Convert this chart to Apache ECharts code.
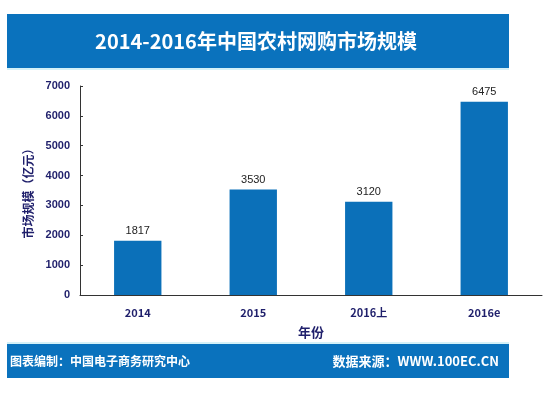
<!DOCTYPE html>
<html><head><meta charset="utf-8">
<script src="https://cdn.jsdelivr.net/npm/echarts@6/dist/echarts.min.js"></script>
<style>html,body{margin:0;padding:0;background:#fff}#c{width:559px;height:393px}</style>
</head><body><div id="c"></div>
<script>
var categories = ['2014', '2015', '2016上', '2016e'];
var values = [1817, 3530, 3120, 6475];
var yTicks = [0, 1000, 2000, 3000, 4000, 5000, 6000, 7000];
var titleText = '2014-2016年中国农村网购市场规模';
var footLeft = '图表编制：中国电子商务研究中心';
var footRight = '数据来源：WWW.100EC.CN';
var yName = '市场规模（亿元）';
var xName = '年份';

var chart = echarts.init(document.getElementById('c'), null, {renderer: 'canvas'});
var navy = '#1f1f6b';
var blue = '#0b70b9';
chart.setOption({
  animation: false,
  backgroundColor: '#fff',
  graphic: [
    {type: 'rect', shape: {x: 7, y: 14, width: 502, height: 54}, style: {fill: '#0a72bd'}, z: 0},
    {type: 'rect', shape: {x: 7, y: 68, width: 502, height: 2}, style: {fill: '#d4f1f8'}, z: 0},
    {type: 'text', x: 256, y: 41, style: {text: titleText, fill: '#fff', font: 'bold 20px "Noto Sans CJK SC", sans-serif', textAlign: 'center', textVerticalAlign: 'middle'}, z: 1},
    {type: 'rect', shape: {x: 7, y: 342, width: 502, height: 2}, style: {fill: '#d4f1f8'}, z: 0},
    {type: 'rect', shape: {x: 7, y: 344, width: 502, height: 34}, style: {fill: '#0a72bd'}, z: 0},
    {type: 'text', x: 10, y: 361, style: {text: footLeft, fill: '#fff', font: 'bold 12px "Noto Sans CJK SC", sans-serif', textAlign: 'left', textVerticalAlign: 'middle'}, z: 1},
    {type: 'text', x: 499, y: 361, style: {text: footRight, fill: '#fff', font: 'bold 13px "Noto Sans CJK SC", sans-serif', textAlign: 'right', textVerticalAlign: 'middle'}, z: 1}
  ],
  grid: {left: 80, right: 17, top: 86, bottom: 98},
  xAxis: {
    type: 'category', data: categories,
    name: xName, nameLocation: 'middle', nameGap: 31,
    nameTextStyle: {color: navy, fontWeight: 'bold', fontSize: 13, fontFamily: '"Noto Sans CJK SC", sans-serif'},
    axisLine: {lineStyle: {color: '#333', width: 1}},
    axisTick: {inside: true, length: 3, lineStyle: {color: '#333'}},
    axisLabel: {color: navy, fontWeight: 'bold', fontSize: 11, margin: 12, fontFamily: '"Noto Sans CJK SC", Arial, sans-serif'}
  },
  yAxis: {
    type: 'value', min: yTicks[0], max: yTicks[yTicks.length - 1], interval: 1000,
    name: yName, nameLocation: 'middle', nameGap: 44, nameRotate: 90,
    nameTextStyle: {color: navy, fontWeight: 'bold', fontSize: 12, fontFamily: '"Noto Sans CJK SC", sans-serif'},
    axisLine: {show: true, lineStyle: {color: '#333', width: 1}},
    axisTick: {show: true, inside: true, length: 3, lineStyle: {color: '#333'}},
    splitLine: {show: false},
    axisLabel: {color: navy, fontWeight: 'bold', fontSize: 11, margin: 10, fontFamily: 'Arial, sans-serif',
      formatter: function (v) { return String(v); }}
  },
  series: [{
    type: 'bar', data: values, barWidth: '41%',
    itemStyle: {color: blue},
    label: {show: true, position: 'top', color: '#222', fontSize: 11, distance: 4, fontFamily: 'Arial, sans-serif'}
  }]
});
</script></body></html>
